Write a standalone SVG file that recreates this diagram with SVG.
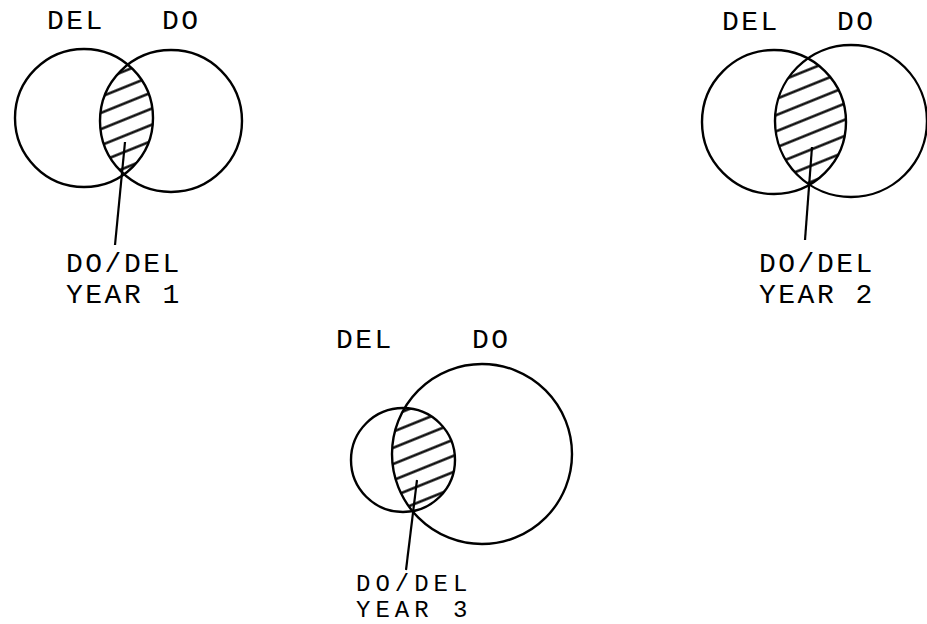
<svg xmlns="http://www.w3.org/2000/svg" width="927" height="624" viewBox="0 0 927 624">
<style>
.c{fill:none;stroke:#000;stroke-width:2.4}
.t{font-family:"Liberation Mono","Courier New",monospace;font-size:28px;fill:#000;letter-spacing:2.5px}
.s{font-size:24px;letter-spacing:5px}
.p{stroke:#000;stroke-width:2.2;fill:none}
</style>
<defs>
<pattern id="hatch" patternUnits="userSpaceOnUse" width="15" height="15" patternTransform="rotate(-22)">
<line x1="0" y1="7.5" x2="15" y2="7.5" stroke="#000" stroke-width="2.4"/>
</pattern>
<clipPath id="cA1"><circle cx="84" cy="118" r="69"/></clipPath>
<clipPath id="cA2"><circle cx="774" cy="122" r="72"/></clipPath>
<clipPath id="cA3"><circle cx="403" cy="460" r="52"/></clipPath>
</defs>
<rect width="927" height="624" fill="#fff"/>
<g id="venn-year1">
<g clip-path="url(#cA1)"><circle cx="171" cy="121" r="71" fill="url(#hatch)"/></g>
<circle class="c" cx="84" cy="118" r="69"/>
<circle class="c" cx="171" cy="121" r="71"/>
<text class="t" x="47" y="29">DEL</text>
<text class="t" x="162" y="29">DO</text>
<text class="t" x="66" y="272">DO/DEL</text>
<text class="t" x="66" y="303">YEAR 1</text>
</g>
<g id="venn-year2">
<g clip-path="url(#cA2)"><circle cx="851" cy="121" r="76" fill="url(#hatch)"/></g>
<circle class="c" cx="774" cy="122" r="72"/>
<circle class="c" cx="851" cy="121" r="76"/>
<text class="t" x="722" y="30">DEL</text>
<text class="t" x="837" y="30">DO</text>
<text class="t" x="759" y="272">DO/DEL</text>
<text class="t" x="759" y="303">YEAR 2</text>
</g>
<g id="venn-year3">
<g clip-path="url(#cA3)"><circle cx="482" cy="454" r="90" fill="url(#hatch)"/></g>
<circle class="c" cx="403" cy="460" r="52"/>
<circle class="c" cx="482" cy="454" r="90"/>
<text class="t" x="336" y="348">DEL</text>
<text class="t" x="472" y="348">DO</text>
<text class="t s" x="356" y="591">DO/DEL</text>
<text class="t s" x="356" y="617">YEAR 3</text>
</g>
<g id="connectors">
<line class="p" x1="125" y1="142" x2="115" y2="245"/>
<line class="p" x1="812" y1="147" x2="805" y2="240"/>
<line class="p" x1="417" y1="480" x2="406" y2="570"/>
</g>
</svg>
